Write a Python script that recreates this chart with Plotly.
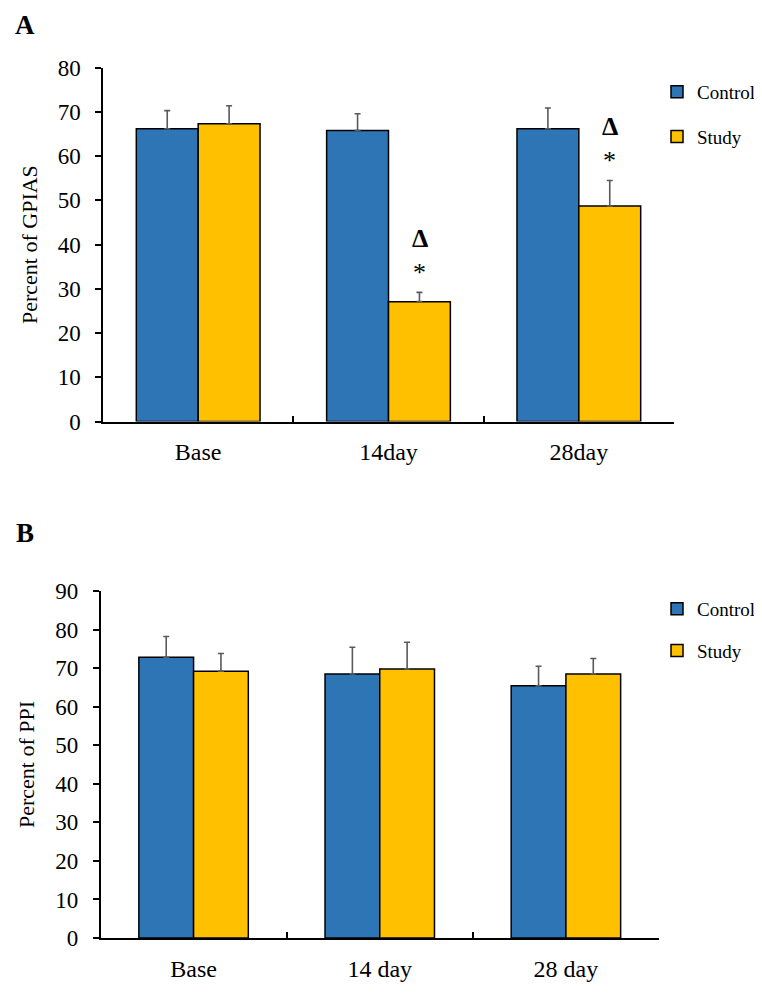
import plotly.graph_objects as go

# Panel A data (GPIAS)
cats_a = ["Base", "14day", "28day"]
ctrl_a = [66.2, 65.8, 66.2]
ctrl_a_err = [4.1, 3.8, 4.7]
study_a = [67.3, 27.1, 48.7]
study_a_err = [4.1, 2.1, 5.8]
sig_a = ["", "Δ", "Δ"]

# Panel B data (PPI)
cats_b = ["Base", "14 day", "28 day"]
ctrl_b = [72.8, 68.5, 65.4]
ctrl_b_err = [5.4, 6.9, 5.1]
study_b = [69.2, 69.8, 68.5]
study_b_err = [4.6, 6.9, 4.0]

BLUE = "#2E75B6"
YELLOW = "#FFC000"
ERR = "#595959"
FONT = "Liberation Serif, Times New Roman, serif"
W, H = 762, 999
OFF = 8  # page body margin


def px_x(p):
    return (p - OFF) / W


def px_y(p):
    return 1 - (p - OFF) / H


fig = go.Figure()

def add_bar(name, x, y, err, color, xa, ya, legend, width, offset):
    fig.add_trace(go.Bar(
        name=name, x=x, y=y, xaxis=xa, yaxis=ya,
        width=width, offset=offset,
        marker=dict(color=color, line=dict(color="black", width=1.5)),
        error_y=dict(type="data", array=err, arrayminus=[0] * len(err),
                     symmetric=False, color=ERR, thickness=1.6, width=3),
        legend=legend, legendgroup=name + legend,
    ))

WA, WB = 0.325, 0.294
add_bar("Control", cats_a, ctrl_a, ctrl_a_err, BLUE, "x", "y", "legend", WA, -WA)
add_bar("Study", cats_a, study_a, study_a_err, YELLOW, "x", "y", "legend", WA, 0)
add_bar("Control", cats_b, ctrl_b, ctrl_b_err, BLUE, "x2", "y2", "legend2", WB, -WB)
add_bar("Study", cats_b, study_b, study_b_err, YELLOW, "x2", "y2", "legend2", WB, 0)

axis_common = dict(showline=True, linecolor="black", linewidth=1.5,
                   showgrid=False, zeroline=False, automargin=False)
xfont = dict(family=FONT, size=24, color="black")
yfont = dict(family=FONT, size=23, color="black")

fig.update_layout(
    width=W, height=H,
    margin=dict(l=0, r=0, t=0, b=0, autoexpand=False),
    paper_bgcolor="white", plot_bgcolor="white",
    barmode="overlay",
    font=dict(family=FONT, color="black"),
    xaxis=dict(domain=[px_x(103), px_x(674)], anchor="y",
               ticks="inside", ticklen=6, tickwidth=1.5, tickcolor="black",
               tickson="boundaries", ticklabelstandoff=8, tickfont=xfont,
               **axis_common),
    yaxis=dict(domain=[px_y(421.5), px_y(67.7)], anchor="x", range=[0, 80],
               dtick=10, ticks="outside", ticklen=6, tickwidth=1.5,
               tickcolor="black", ticklabelstandoff=10, tickfont=yfont,
               title=dict(text="Percent of GPIAS", standoff=14,
                          font=dict(family=FONT, size=22)),
               **axis_common),
    xaxis2=dict(domain=[px_x(100.5), px_x(659)], anchor="y2",
                ticks="inside", ticklen=6, tickwidth=1.5, tickcolor="black",
                tickson="boundaries", ticklabelstandoff=8, tickfont=xfont,
                **axis_common),
    yaxis2=dict(domain=[px_y(938), px_y(591)], anchor="x2", range=[0, 90],
                dtick=10, ticks="outside", ticklen=6, tickwidth=1.5,
                tickcolor="black", ticklabelstandoff=10, tickfont=yfont,
                title=dict(text="Percent of PPI", standoff=14,
                           font=dict(family=FONT, size=22)),
                **axis_common),
    legend=dict(x=px_x(657), y=px_y(73), xanchor="left", yanchor="top",
                font=dict(family=FONT, size=19), traceorder="grouped",
                tracegroupgap=17, bgcolor="rgba(0,0,0,0)"),
    legend2=dict(x=px_x(657), y=px_y(590), xanchor="left", yanchor="top",
                 font=dict(family=FONT, size=19), traceorder="grouped",
                 tracegroupgap=14, bgcolor="rgba(0,0,0,0)"),
)

# Significance markers above Study bars in panel A
for c, v, e, s in zip(cats_a, study_a, study_a_err, sig_a):
    if not s:
        continue
    top = v + e
    fig.add_annotation(x=c, y=top, xref="x", yref="y", text="*",
                       showarrow=False, xshift=31, yshift=20,
                       font=dict(family=FONT, size=26, color="black"))
    fig.add_annotation(x=c, y=top, xref="x", yref="y", text="<b>Δ</b>",
                       showarrow=False, xshift=31, yshift=54,
                       font=dict(family=FONT, size=26, color="black"))

# Panel letters
for letter, cy in (("A", 25), ("B", 533)):
    fig.add_annotation(x=px_x(25), y=px_y(cy), xref="paper", yref="paper",
                       xanchor="center", yanchor="middle",
                       text="<b>%s</b>" % letter, showarrow=False,
                       font=dict(family=FONT, size=27, color="black"))

fig.write_html("out.html")
